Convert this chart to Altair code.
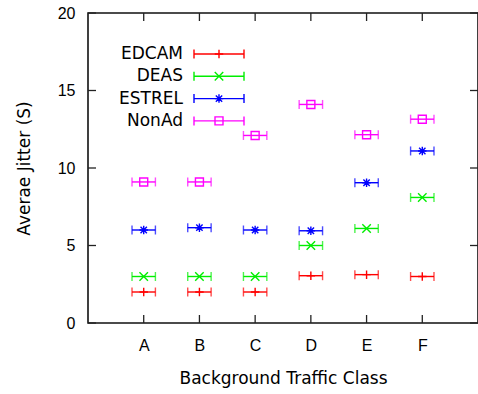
import altair as alt
import pandas as pd

# ---- data ----
classes = ["A", "B", "C", "D", "E", "F"]
class_pos = [1, 2, 3, 4, 5, 6]
series_names = ["EDCAM", "DEAS", "ESTREL", "NonAd"]
edcam = [2.0, 2.0, 2.0, 3.05, 3.12, 3.0]
deas = [3.0, 3.0, 3.0, 5.0, 6.1, 8.1]
estrel = [6.0, 6.15, 6.0, 5.95, 9.05, 11.1]
nonad = [9.1, 9.1, 12.1, 14.1, 12.15, 13.15]
x_err = 0.21
y_ticks = [0, 5, 10, 15, 20]

colors = ["#ff0000", "#00ee00", "#0000ff", "#ff00ff"]
shapes = [
    "M-1,0L1,0M0,-1L0,1",
    "M-1,-1L1,1M-1,1L1,-1",
    "M-1,0L1,0M0,-1L0,1M-0.75,-0.75L0.75,0.75M-0.75,0.75L0.75,-0.75",
    "square",
]
values = [edcam, deas, estrel, nonad]

W, H = 390, 310
FONT_T = "DejaVu Sans"
FONT_N = "Liberation Sans"

xscale = alt.Scale(domain=[0, 7], nice=False, zero=False)
yscale = alt.Scale(domain=[0, 20], nice=False, zero=False)

layers = []

# axes (labels + titles) carried by an invisible layer
axis_df = pd.DataFrame({"x": class_pos, "y": [0] * 6})
label_expr = "['','A','B','C','D','E','F',''][datum.value]"
base_axes = alt.Chart(axis_df).mark_point(opacity=0).encode(
    x=alt.X("x:Q", scale=xscale,
            axis=alt.Axis(values=class_pos, labelExpr=label_expr, ticks=False, tickSize=0,
                          domain=False, grid=False, labelFont=FONT_N, labelFontSize=16,
                          labelColor="#000", labelPadding=14,
                          title="Background Traffic Class", titleFont=FONT_T,
                          titleFontSize=17, titleFontWeight="normal", titleColor="#000",
                          titlePadding=17)),
    y=alt.Y("y:Q", scale=yscale,
            axis=alt.Axis(values=y_ticks, ticks=False, tickSize=0, domain=False, grid=False,
                          labelFont=FONT_N, labelFontSize=16, labelColor="#000",
                          labelPadding=13, title="Averae Jitter (S)", titleFont=FONT_T,
                          titleFontSize=17, titleFontWeight="normal", titleColor="#000",
                          titlePadding=24)),
)
layers.append(base_axes)

# inward ticks (gnuplot style, mirrored)
xt_df = pd.DataFrame({"x": class_pos})
yt_df = pd.DataFrame({"y": y_ticks})
TL = 8
for y0, y1 in [(H - TL, H), (0, TL)]:
    layers.append(alt.Chart(xt_df).mark_rule(color="#222", strokeWidth=1.3).encode(
        x=alt.X("x:Q", scale=xscale), y=alt.value(y0), y2=alt.value(y1)))
for x0, x1 in [(0, TL), (W - TL, W)]:
    layers.append(alt.Chart(yt_df).mark_rule(color="#222", strokeWidth=1.3).encode(
        y=alt.Y("y:Q", scale=yscale), x=alt.value(x0), x2=alt.value(x1)))

# data series
for name, vals, col, shp in zip(series_names, values, colors, shapes):
    df = pd.DataFrame({
        "x": class_pos,
        "lo": [p - x_err for p in class_pos],
        "hi": [p + x_err for p in class_pos],
        "v": vals,
    })
    c = alt.Chart(df)
    layers.append(c.mark_rule(color=col, strokeWidth=1.4).encode(
        x=alt.X("lo:Q", scale=xscale), x2="hi:Q", y=alt.Y("v:Q", scale=yscale)))
    for end in ["lo", "hi"]:
        layers.append(c.mark_tick(color=col, orient="vertical", size=9, thickness=1.4).encode(
            x=alt.X(f"{end}:Q", scale=xscale), y=alt.Y("v:Q", scale=yscale)))
    layers.append(c.mark_point(color=col, shape=shp, filled=False, size=72 if shp != "square" else 64,
                               strokeWidth=1.4, opacity=1).encode(
        x=alt.X("x:Q", scale=xscale), y=alt.Y("v:Q", scale=yscale)))

# legend (top-left, labels left of samples)
leg_df = pd.DataFrame({"k": [0]})
row_y0, row_dy = 41, 22.3
sx0, sx1, sxc, lab_x = 106, 156, 131, 95
for i, (name, col, shp) in enumerate(zip(series_names, colors, shapes)):
    yy = row_y0 + row_dy * i
    lc = alt.Chart(leg_df)
    layers.append(lc.mark_text(text=name, align="right", baseline="middle", font=FONT_T,
                               fontSize=17, color="#000").encode(
        x=alt.value(lab_x), y=alt.value(yy)))
    layers.append(lc.mark_rule(color=col, strokeWidth=1.4).encode(
        x=alt.value(sx0), x2=alt.value(sx1), y=alt.value(yy)))
    for ex in [sx0, sx1]:
        layers.append(lc.mark_rule(color=col, strokeWidth=1.4).encode(
            x=alt.value(ex), y=alt.value(yy - 4.5), y2=alt.value(yy + 4.5)))
    layers.append(lc.mark_point(color=col, shape=shp, filled=False,
                                size=72 if shp != "square" else 64,
                                strokeWidth=1.4, opacity=1).encode(
        x=alt.value(sxc), y=alt.value(yy)))

chart = alt.layer(*layers).properties(
    width=W, height=H,
    autosize=alt.AutoSizeParams(type="none"),
    padding={"left": 88, "top": 13, "right": 0, "bottom": 71},
    background="white",
).configure_view(stroke="#111", strokeWidth=1.6)

chart.save("out.html", embed_options={"renderer": "svg", "actions": False})
